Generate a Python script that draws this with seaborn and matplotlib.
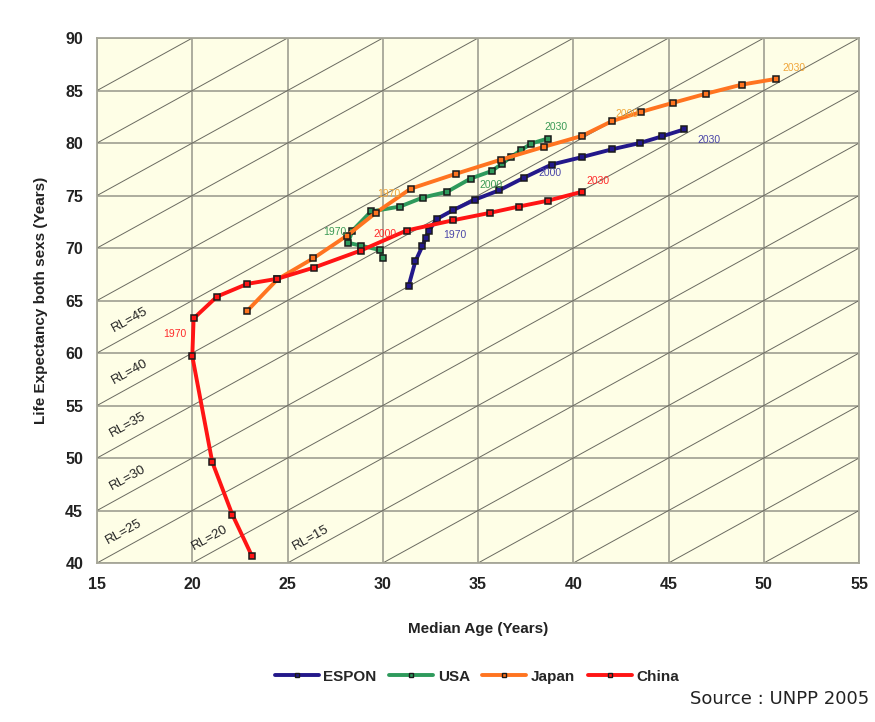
import numpy as np
import pandas as pd
import seaborn as sns
from matplotlib import pyplot as plt
from matplotlib.lines import Line2D

# median age (x) / life expectancy (y)
espon_x = [31.35, 31.71, 32.08, 32.25, 32.43, 32.83, 33.70, 34.85, 36.11, 37.40, 38.86, 40.43, 42.02, 43.49, 44.68, 45.80]
espon_y = [66.36, 68.74, 70.19, 70.95, 71.67, 72.76, 73.62, 74.62, 75.50, 76.69, 77.95, 78.65, 79.40, 80.00, 80.65, 81.29]

usa_x = [30.02, 29.86, 28.88, 28.18, 28.40, 29.38, 30.90, 32.10, 33.37, 34.61, 35.71, 36.26, 36.72, 37.23, 37.79, 38.66]
usa_y = [69.03, 69.81, 70.21, 70.50, 71.65, 73.48, 73.95, 74.81, 75.35, 76.62, 77.33, 78.03, 78.67, 79.29, 79.95, 80.43]

japan_x = [22.89, 24.47, 26.36, 28.13, 29.65, 31.46, 33.82, 36.19, 38.46, 40.44, 42.02, 43.56, 45.25, 46.99, 48.86, 50.64]
japan_y = [64.03, 67.02, 69.03, 71.19, 73.38, 75.65, 77.06, 78.41, 79.64, 80.67, 82.08, 82.97, 83.84, 84.71, 85.57, 86.11]

china_x = [23.12, 22.10, 21.05, 20.00, 20.07, 21.30, 22.89, 24.46, 26.39, 28.84, 31.25, 33.70, 35.62, 37.14, 38.69, 40.43]
china_y = [40.71, 44.62, 49.60, 59.70, 63.29, 65.38, 66.59, 67.07, 68.14, 69.76, 71.67, 72.65, 73.35, 73.95, 74.52, 75.35]

series = ["ESPON", "USA", "Japan", "China"]
colors = {"ESPON": "#23188a", "USA": "#2e9a5c", "Japan": "#ff7420", "China": "#ff1414"}
label_colors = {"ESPON": "#4a46a8", "USA": "#3a9a55", "Japan": "#f0a63a", "China": "#ff2a2a"}

# year labels: (series, text, x, y)
year_labels = [
    ("ESPON", "1970", 33.8, 71.2), ("ESPON", "2000", 38.8, 77.1), ("ESPON", "2030", 47.1, 80.3),
    ("USA", "1970", 27.5, 71.5), ("USA", "2000", 35.7, 76.0), ("USA", "2030", 39.1, 81.5),
    ("Japan", "1970", 30.3, 75.1), ("Japan", "2000", 42.8, 82.8), ("Japan", "2030", 51.6, 87.1),
    ("China", "1970", 19.1, 61.8), ("China", "2000", 30.1, 71.3), ("China", "2030", 41.3, 76.4),
]

rl_values = list(range(-15, 80, 5))
rl_labels = [("RL=45", 16.7, 63.2), ("RL=40", 16.7, 58.2), ("RL=35", 16.6, 53.2),
             ("RL=30", 16.6, 48.1), ("RL=25", 16.4, 43.0), ("RL=20", 20.9, 42.4), ("RL=15", 26.2, 42.4)]

df = pd.concat([
    pd.DataFrame({"age": espon_x, "le": espon_y, "region": "ESPON"}),
    pd.DataFrame({"age": usa_x, "le": usa_y, "region": "USA"}),
    pd.DataFrame({"age": japan_x, "le": japan_y, "region": "Japan"}),
    pd.DataFrame({"age": china_x, "le": china_y, "region": "China"}),
], ignore_index=True)

sns.set_style("white")
plt.rcParams["font.family"] = ["Liberation Sans", "DejaVu Sans"]

fig = plt.figure(figsize=(8.75, 7.22), dpi=100)
ax = fig.add_axes([0.1109, 0.2202, 0.8709, 0.7271])
ax.set_facecolor("#fefee6")
ax.set_xlim(15, 55)
ax.set_ylim(40, 90)
ax.set_xticks(range(15, 56, 5))
ax.set_yticks(range(40, 91, 5))
ax.grid(True, color="#a6a698", linewidth=1.3)
ax.set_axisbelow(True)

for rl in rl_values:
    ax.axline((15, 15 + rl), slope=1, color="#6a6a60", linewidth=0.7, zorder=1)

sns.lineplot(data=df, x="age", y="le", hue="region", hue_order=series, palette=colors,
             sort=False, estimator=None, linewidth=2.8, marker="s", markersize=4.5,
             markeredgecolor="#1a1a1a", markeredgewidth=1.1, legend=False, ax=ax, zorder=3)

for name, txt, x, y in year_labels:
    ax.text(x, y, txt, color=label_colors[name], fontsize=7.5, ha="center", va="center", zorder=4)

p0 = ax.transData.transform((15, 40))
p1 = ax.transData.transform((20, 45))
angle = np.degrees(np.arctan2(p1[1] - p0[1], p1[0] - p0[0]))
for txt, x, y in rl_labels:
    ax.text(x, y, txt, rotation=angle, rotation_mode="anchor", fontsize=9.5, color="#222222",
            ha="center", va="center", zorder=4)

for s in ax.spines.values():
    s.set_color("#a6a698")
    s.set_linewidth(1.3)
ax.tick_params(axis="both", length=5, width=1, color="#8a8a80", labelsize=11.5, pad=5)
for lab in ax.get_xticklabels() + ax.get_yticklabels():
    lab.set_fontweight("bold")
    lab.set_color("#222222")

ax.set_xlabel("Median Age (Years)", fontsize=11, fontweight="bold", labelpad=22, color="#222222")
ax.set_ylabel("Life Expectancy both sexs (Years)", fontsize=11, fontweight="bold", labelpad=12, color="#222222")

handles = [Line2D([0], [0], color=colors[n], linewidth=2.8, marker="s", markersize=3.5,
                  markerfacecolor=colors[n], markeredgecolor="#1a1a1a") for n in series]
leg = fig.legend(handles, series, loc="center", bbox_to_anchor=(0.545, 0.063), ncol=4, frameon=False,
                 handlelength=2.9, handletextpad=0.3, columnspacing=0.8,
                 prop={"weight": "bold", "size": 11})

fig.text(0.993, 0.02, "Source : UNPP 2005", ha="right", va="bottom", fontsize=13,
         family="DejaVu Sans", color="#222222")

fig.savefig("out.png", dpi=100, facecolor="white")
